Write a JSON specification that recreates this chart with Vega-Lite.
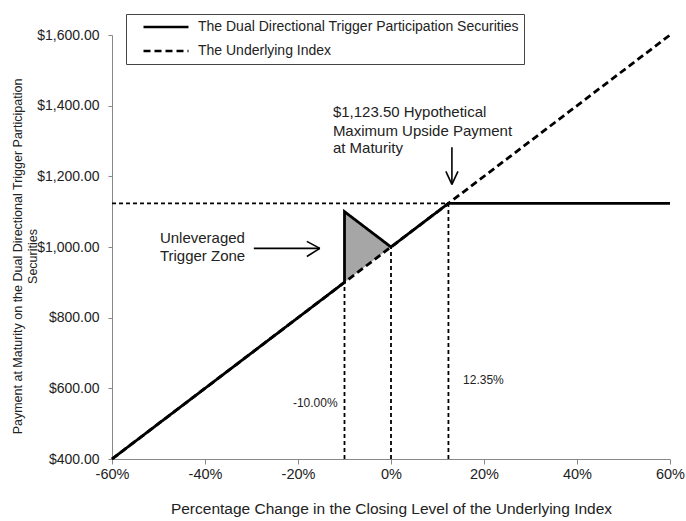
{
  "$schema": "https://vega.github.io/schema/vega-lite/v6.json",
  "width": 558,
  "height": 424,
  "autosize": {"type": "none"},
  "padding": {"left": 112, "top": 35, "right": 16, "bottom": 62},
  "background": "white",
  "config": {"view": {"stroke": null}, "font": "Liberation Sans"},
  "datasets": {
    "zone": [
      {"x": -10, "y": 900, "y2": 1100},
      {"x": 0, "y": 1000, "y2": 1000}
    ],
    "refs": [
      {"x": -10, "x2": -10, "y": 400, "y2": 900},
      {"x": 0, "x2": 0, "y": 400, "y2": 1000},
      {"x": 12.35, "x2": 12.35, "y": 400, "y2": 1123.5},
      {"x": -60, "x2": 12.35, "y": 1123.5, "y2": 1123.5}
    ],
    "lines": [
      {"series": "The Dual Directional Trigger Participation Securities", "o": 1, "x": -60, "y": 400},
      {"series": "The Dual Directional Trigger Participation Securities", "o": 2, "x": -10, "y": 900},
      {"series": "The Dual Directional Trigger Participation Securities", "o": 3, "x": -10, "y": 1100},
      {"series": "The Dual Directional Trigger Participation Securities", "o": 4, "x": 0, "y": 1000},
      {"series": "The Dual Directional Trigger Participation Securities", "o": 5, "x": 12.35, "y": 1123.5},
      {"series": "The Dual Directional Trigger Participation Securities", "o": 6, "x": 60, "y": 1123.5},
      {"series": "The Underlying Index", "o": 1, "x": -60, "y": 400},
      {"series": "The Underlying Index", "o": 2, "x": 60, "y": 1600}
    ],
    "arrows": [
      {"x": -29.5, "y": 996, "x2": -15.3, "y2": 996},
      {"x": -18.1, "y": 1016, "x2": -15.3, "y2": 996},
      {"x": -18.1, "y": 973, "x2": -15.3, "y2": 996},
      {"x": 13.1, "y": 1282, "x2": 13.1, "y2": 1177},
      {"x": 11.8, "y": 1214, "x2": 13.1, "y2": 1177},
      {"x": 14.4, "y": 1214, "x2": 13.1, "y2": 1177}
    ],
    "notes": [
      {"text": "$1,123.50 Hypothetical", "x": -12.5, "y": 1382},
      {"text": "Maximum  Upside Payment", "x": -12.5, "y": 1328},
      {"text": "at Maturity", "x": -12.5, "y": 1280},
      {"text": "Unleveraged", "x": -49.7, "y": 1025},
      {"text": "Trigger Zone", "x": -49.7, "y": 975}
    ],
    "pcts": [
      {"text": "-10.00%", "x": -21.1, "y": 559},
      {"text": "12.35%", "x": 15.5, "y": 624}
    ]
  },
  "layer": [
    {
      "data": {"name": "zone"},
      "mark": {"type": "area", "color": "#a6a6a6", "opacity": 1},
      "encoding": {
        "x": {
          "field": "x", "type": "quantitative",
          "scale": {"domain": [-60, 60], "nice": false, "zero": false},
          "axis": {
            "title": "Percentage Change in the Closing Level of the Underlying Index",
            "values": [-60, -40, -20, 0, 20, 40, 60],
            "labelExpr": "datum.value + '%'",
            "labelFlush": false,
            "labelOverlap": false,
            "grid": false,
            "domainColor": "#888", "tickColor": "#888", "tickSize": 5,
            "labelFontSize": 14.5, "labelColor": "#222", "labelPadding": 3,
            "titleFontSize": 15.5, "titleFontWeight": "normal", "titleColor": "#222",
            "titleBaseline": "middle", "titleY": 49
          }
        },
        "y": {
          "field": "y", "type": "quantitative",
          "scale": {"domain": [400, 1600], "nice": false, "zero": false},
          "axis": {
            "title": ["Payment at Maturity on the Dual Directional Trigger Participation", "Securities"],
            "values": [400, 600, 800, 1000, 1200, 1400, 1600],
            "format": "$,.2f",
            "labelFlush": false,
            "grid": false,
            "domainColor": "#888", "tickColor": "#888", "tickSize": 4,
            "labelFontSize": 14, "labelColor": "#222", "labelPadding": 9,
            "titleFontSize": 12.5, "titleFontWeight": "normal", "titleColor": "#222",
            "titleAngle": -90, "titleAlign": "center", "titleBaseline": "top",
            "titleX": -101, "titleY": 221, "titleLineHeight": 15
          }
        },
        "y2": {"field": "y2"}
      }
    },
    {
      "data": {"name": "refs"},
      "mark": {"type": "rule", "color": "black", "strokeWidth": 1.8, "strokeDash": [4, 3]},
      "encoding": {
        "x": {"field": "x", "type": "quantitative"},
        "x2": {"field": "x2"},
        "y": {"field": "y", "type": "quantitative"},
        "y2": {"field": "y2"}
      }
    },
    {
      "data": {"name": "lines"},
      "mark": {"type": "line", "color": "black", "strokeWidth": 2.8},
      "encoding": {
        "x": {"field": "x", "type": "quantitative"},
        "y": {"field": "y", "type": "quantitative"},
        "order": {"field": "o", "type": "quantitative"},
        "strokeDash": {
          "field": "series", "type": "nominal",
          "scale": {
            "domain": ["The Dual Directional Trigger Participation Securities", "The Underlying Index"],
            "range": [[1, 0], [7, 4]]
          },
          "legend": {
            "orient": "none", "legendX": 14, "legendY": -21,
            "title": null,
            "strokeColor": "#444", "fillColor": "white", "padding": 5,
            "symbolType": "stroke", "symbolSize": 2025, "symbolStrokeWidth": 2.5,
            "symbolStrokeColor": "black", "symbolOffset": 11,
            "labelOffset": 8, "labelFontSize": 14, "labelColor": "#222", "labelLimit": 420,
            "clipHeight": 16, "rowPadding": 8
          }
        }
      }
    },
    {
      "data": {"name": "arrows"},
      "mark": {"type": "rule", "color": "black", "strokeWidth": 1.6},
      "encoding": {
        "x": {"field": "x", "type": "quantitative"},
        "x2": {"field": "x2"},
        "y": {"field": "y", "type": "quantitative"},
        "y2": {"field": "y2"}
      }
    },
    {
      "data": {"name": "notes"},
      "mark": {"type": "text", "align": "left", "baseline": "middle", "fontSize": 15, "color": "#222"},
      "encoding": {
        "x": {"field": "x", "type": "quantitative"},
        "y": {"field": "y", "type": "quantitative"},
        "text": {"field": "text"}
      }
    },
    {
      "data": {"name": "pcts"},
      "mark": {"type": "text", "align": "left", "baseline": "middle", "fontSize": 12, "color": "#222"},
      "encoding": {
        "x": {"field": "x", "type": "quantitative"},
        "y": {"field": "y", "type": "quantitative"},
        "text": {"field": "text"}
      }
    }
  ]
}
